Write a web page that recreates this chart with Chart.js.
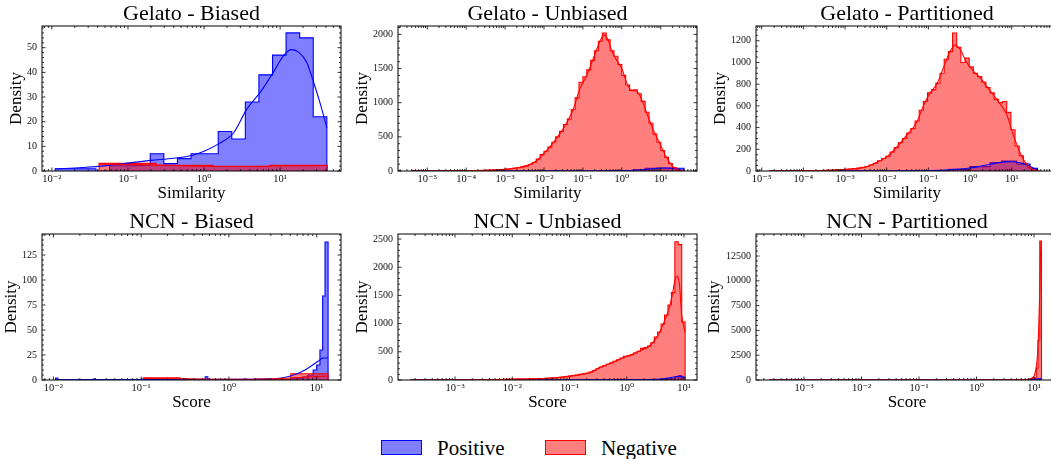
<!DOCTYPE html>
<html>
<head>
<meta charset="utf-8">
<script src="https://cdn.jsdelivr.net/npm/chart.js@4.4.1/dist/chart.umd.min.js"></script>
<style>
  body { margin: 0; width: 1051px; height: 459px; overflow: hidden; background: #fff; position: relative; }
  canvas { position: absolute; }
  .sw { position: absolute; top: 440px; width: 41px; height: 15px; box-sizing: border-box; }
  .lt { position: absolute; top: 435px; font: 21px "Liberation Serif", serif; color: #000; line-height: 26px; }
</style>
</head>
<body>
<div class="sw" style="left:381px;background:rgba(0,0,255,0.5);border:1px solid #0000ff"></div>
<div class="lt" style="left:437px">Positive</div>
<div class="sw" style="left:545px;background:rgba(255,0,0,0.5);border:1px solid #ff0000"></div>
<div class="lt" style="left:601px">Negative</div>
<script>
// all x values are log10 exponents

// Gelato - Biased
const gbPosEdges = [-1.956, -1.778, -1.599, -1.421, -1.242, -1.064, -0.885, -0.707, -0.528, -0.350, -0.171, 0.007, 0.186, 0.364, 0.543, 0.721, 0.900, 1.078, 1.257, 1.435, 1.614];
const gbPosHist = [0.9, 0.9, 0.9, 0, 2.1, 2.1, 2.3, 7, 3, 5, 7, 7, 16, 13, 28, 39, 47, 56, 54, 22];
const gbNegEdges = [-1.38, -0.63, 0.12, 0.87, 1.62];
const gbNegHist = [3.1, 2.3, 1.8, 2.3];
const gbPosKdeX = [-1.956, -1.6, -1.25, -1.0, -0.7, -0.4, -0.16, 0.0, 0.19, 0.39, 0.56, 0.74, 0.91, 1.05, 1.15, 1.25, 1.35, 1.44, 1.53, 1.614];
const gbPosKde = [0.8, 1.4, 2.3, 3.2, 4.3, 5.2, 6.3, 8, 11, 15.5, 25, 32, 40, 47, 49.2, 48, 44, 36, 27, 17.5];
const gbNegKdeX = [-1.38, -0.9, -0.4, 0.1, 0.6, 1.1, 1.62];
const gbNegKde = [2.8, 2.6, 2.2, 1.9, 1.9, 2.1, 2.2];

// Gelato - Unbiased
const guNegEdges = [-5.4,-5.3,-5.2,-5.1,-5.0,-4.9,-4.8,-4.7,-4.6,-4.5,-4.4,-4.3,-4.2,-4.1,-4.0,-3.9,-3.8,-3.7,-3.6,-3.5,-3.4,-3.3,-3.2,-3.1,-3.0,-2.9,-2.8,-2.7,-2.6,-2.5,-2.4,-2.3,-2.2,-2.1,-2.0,-1.9,-1.8,-1.7,-1.6,-1.5,-1.4,-1.3,-1.2,-1.1,-1.0,-0.9,-0.8,-0.7,-0.6,-0.5,-0.4,-0.3,-0.2,-0.1,0.0,0.1,0.2,0.3,0.4,0.5,0.6,0.7,0.8,0.9,1.0,1.1,1.2,1.3,1.4,1.5,1.6];
const guNegHist = [0,0,0,1,0,1,1,1,1,1, 2,1,2,3,3,4,5,6,8,10, 12,15,18,22,28,34,42,50,60,75, 95,125,175,240,290,350,420,500,580,680, 760,900,1070,1300,1380,1480,1620,1760,1900,2020, 1920,1760,1680,1560,1400,1260,1180,1190,1130,1020, 860,700,540,420,300,200,110,50,15,3];
const guNegKdeX = [-5.4,-4.5,-3.82,-3.13,-2.7,-2.45,-2.19,-2.02,-1.85,-1.59,-1.42,-1.25,-1.08,-0.9,-0.73,-0.56,-0.46,-0.36,-0.26,-0.13,0.0,0.12,0.25,0.38,0.51,0.64,0.81,0.98,1.15,1.32,1.5,1.6];
const guNegKde = [0,1,5,20,45,75,150,250,350,550,700,900,1200,1400,1650,1900,1990,1930,1760,1620,1500,1300,1180,1170,1050,850,600,400,200,60,8,1];
const guPosEdges = [-5.4, 0.0, 0.3, 0.6, 0.9, 1.2, 1.4, 1.6];
const guPosHist = [0, 6, 18, 40, 45, 45, 40];
const guPosKdeX = [-5.4, -1.0, 0.0, 0.3, 0.6, 0.9, 1.1, 1.3, 1.45, 1.6];
const guPosKde = [0, 0.5, 3, 10, 22, 38, 45, 40, 22, 5];

// Gelato - Partitioned
const gpNegEdges = [-4.82,-4.72,-4.62,-4.52,-4.42,-4.32,-4.22,-4.12,-4.02,-3.92,-3.82,-3.72,-3.62,-3.52,-3.42,-3.32,-3.22,-3.12,-3.02,-2.92,-2.82,-2.72,-2.62,-2.52,-2.42,-2.32,-2.22,-2.12,-2.02,-1.92,-1.82,-1.72,-1.62,-1.52,-1.42,-1.32,-1.22,-1.12,-1.02,-0.92,-0.82,-0.72,-0.62,-0.52,-0.42,-0.32,-0.22,-0.12,-0.02,0.08,0.18,0.28,0.38,0.48,0.58,0.68,0.78,0.88,0.98,1.08,1.18,1.28,1.38,1.48,1.58,1.68];
const gpNegHist = [0,0,1,1,1,1,2,2,2,3, 3,4,5,6,7,9,10,13,15,18, 22,28,34,42,55,72,95,115,135,175, 215,260,300,350,390,460,560,640,720,750, 810,900,1030,1100,1272,1140,1000,1040,960,900, 870,820,770,720,660,630,640,540,380,230, 140,70,30,10,2];
const gpNegKdeX = [-4.82,-4.0,-3.52,-2.96,-2.48,-2.24,-2.0,-1.76,-1.52,-1.28,-1.12,-0.96,-0.8,-0.64,-0.48,-0.36,-0.24,-0.08,0.08,0.24,0.4,0.56,0.72,0.88,1.04,1.2,1.36,1.52,1.62];
const gpNegKde = [0,2,5,15,40,80,130,220,330,450,600,720,800,950,1100,1160,1120,1000,920,860,780,700,620,520,330,170,60,10,1];
const gpPosEdges = [-4.82, -1.0, -0.5, 0.0, 0.48, 0.76, 1.12, 1.44, 1.62];
const gpPosHist = [0, 4, 15, 40, 77, 92, 65, 25];
const gpPosKdeX = [-4.82, -2.0, -1.0, -0.5, 0.0, 0.3, 0.6, 0.85, 1.0, 1.2, 1.4, 1.55, 1.62];
const gpPosKde = [0, 0.5, 3, 10, 28, 48, 70, 84, 85, 75, 50, 22, 12];

// NCN - Biased
const nbPosEdges = [-1.975, -1.95, -1.55, -1.52, -1.0, -0.97, -0.51, -0.48, -0.27, -0.24, 0.17, 0.20, 0.42, 0.45, 0.72, 0.75, 0.84, 0.90, 0.96, 1.00, 1.037, 1.068, 1.095, 1.13];
const nbPosHist = [2, 0, 1, 0, 1, 0, 1.5, 0, 3.3, 0, 1, 0, 1, 0, 1.5, 2, 3, 5, 10, 15, 30, 84, 138];
const nbNegEdges = [-0.975, -0.555, -0.135, 0.285, 0.705, 1.13];
const nbNegHist = [2.3, 0.5, 0.5, 0.8, 6.3];
const nbPosKdeX = [-1.975, -1.0, 0.0, 0.4, 0.6, 0.72, 0.83, 0.93, 1.02, 1.07, 1.13];
const nbPosKde = [0.3, 0.5, 0.6, 0.9, 2, 4.5, 8.3, 13.5, 19, 22, 22];
const nbNegKdeX = [-0.975, -0.6, -0.2, 0.3, 0.7, 1.0, 1.13];
const nbNegKde = [1.6, 1.3, 0.8, 0.8, 2, 3.5, 3.8];

// NCN - Unbiased
const nuNegEdges = [-3.78,-3.72,-3.66,-3.60,-3.54,-3.48,-3.42,-3.36,-3.30,-3.24,-3.18,-3.12,-3.06,-3.00,-2.94,-2.88,-2.82,-2.76,-2.70,-2.64,-2.58,-2.52,-2.46,-2.40,-2.34,-2.28,-2.22,-2.16,-2.10,-2.04,-1.98,-1.92,-1.86,-1.80,-1.74,-1.68,-1.62,-1.56,-1.50,-1.44,-1.38,-1.32,-1.26,-1.20,-1.14,-1.08,-1.02,-0.96,-0.90,-0.84,-0.78,-0.72,-0.66,-0.60,-0.54,-0.48,-0.42,-0.36,-0.30,-0.24,-0.18,-0.12,-0.06,0.00,0.06,0.12,0.18,0.24,0.30,0.36,0.42,0.48,0.54,0.60,0.66,0.72,0.78,0.84,0.90,0.96,1.02];
const nuNegHist = [0,0,0,1,0,1,0,1,1,1, 1,1,1,2,2,2,3,3,3,4, 4,5,5,6,8,9,10,12,13,14, 15,16,17,18,19,21,22,24,27,30, 33,37,41,46,52,60,68,78,88,100, 112,125,140,165,200,230,255,280,300,330, 360,390,420,430,450,480,510,560,575,600, 660,760,850,990,1150,1330,1550,2452,2400,1030];
const nuNegKdeX = [-3.78,-3.0,-2.5,-2.1,-1.52,-1.23,-0.94,-0.65,-0.47,-0.29,-0.12,0.06,0.23,0.38,0.47,0.58,0.64,0.73,0.79,0.84,0.87,0.92,0.96,1.02];
const nuNegKde = [0,1,4,12,24,41,77,130,220,295,370,440,520,590,680,860,1000,1240,1480,1760,1840,1700,1150,850];
const nuPosEdges = [-3.78, 0.42, 0.6, 0.72, 0.84, 0.9, 0.96, 1.02];
const nuPosHist = [0, 3, 8, 20, 55, 78, 45];
const nuPosKdeX = [-3.78, -1.0, 0.0, 0.4, 0.6, 0.75, 0.88, 0.95, 1.02];
const nuPosKde = [0, 0.5, 3, 8, 18, 38, 62, 60, 45];

// NCN - Partitioned
const npNegEdges = [-3.60, 0.50, 0.90, 0.98, 1.04, 1.07, 1.10, 1.13];
const npNegHist = [3, 15, 60, 250, 1200, 4000, 14000];
const npNegKdeX = [-3.6, 0.0, 0.8, 0.95, 1.0, 1.03, 1.06, 1.08, 1.10, 1.12, 1.13];
const npNegKde = [0, 2, 20, 150, 400, 1000, 2500, 5000, 9000, 13900, 13500];
const npPosEdges = [-3.60, 0.8, 1.0, 1.1, 1.13];
const npPosHist = [0, 10, 60, 150];
const npPosKdeX = [-3.6, 0.5, 1.0, 1.13];
const npPosKde = [0, 5, 60, 140];

// tick labels
const gbYTicks = [0, 10, 20, 30, 40, 50];
const guYTicks = [0, 500, 1000, 1500, 2000];
const gpYTicks = [0, 200, 400, 600, 800, 1000, 1200];
const nbYTicks = [0, 25, 50, 75, 100, 125];
const nuYTicks = [0, 500, 1000, 1500, 2000, 2500];
const npYTicks = [0, 2500, 5000, 7500, 10000, 12500];
const gbXTicks = [-2, -1, 0, 1];
const guXTicks = [-5, -4, -3, -2, -1, 0, 1];
const gpXTicks = [-5, -4, -3, -2, -1, 0, 1];
const nbXTicks = [-2, -1, 0, 1];
const nuXTicks = [-3, -2, -1, 0, 1];
const npXTicks = [-3, -2, -1, 0, 1];

const FONT = '"Liberation Serif", "DejaVu Serif", serif';
const BLUE = '#0000ff', RED = '#ff0000';
const BLUE_FILL = 'rgba(0,0,255,0.5)', RED_FILL = 'rgba(255,0,0,0.5)';
const SUP = {'-': '\u207B', '0': '\u2070', '1': '\u00B9', '2': '\u00B2', '3': '\u00B3', '4': '\u2074', '5': '\u2075', '6': '\u2076', '7': '\u2077', '8': '\u2078', '9': '\u2079'};
const PAD_R = 14; // spare room on the right so scale padding never shrinks the plot box

function powLabel(e) {
  return '10' + String(e).split('').map(c => SUP[c]).join('');
}

function histPoints(edges, heights) {
  const pts = [{x: 10 ** edges[0], y: 0}];
  heights.forEach((h, i) => pts.push({x: 10 ** edges[i], y: h}));
  pts.push({x: 10 ** edges[edges.length - 1], y: heights[heights.length - 1]});
  pts.push({x: 10 ** edges[edges.length - 1], y: 0});
  return pts;
}

function curvePoints(xs, ys) {
  return xs.map((e, i) => ({x: 10 ** e, y: ys[i]}));
}

// frame + inward ticks on all four sides, like the scienceplots style
const framePlugin = {
  id: 'frame',
  afterDraw(chart, args, opts) {
    const {ctx, chartArea: a, scales: {x, y}} = chart;
    ctx.save();
    ctx.strokeStyle = '#000';
    ctx.lineWidth = 1;
    ctx.strokeRect(a.left, a.top, a.right - a.left, a.bottom - a.top);
    ctx.lineWidth = 0.8;
    ctx.beginPath();
    const lo = Math.log10(x.min), hi = Math.log10(x.max);
    for (let e = Math.floor(lo); e <= Math.ceil(hi); e++) {
      for (let m = 1; m < 10; m++) {
        const lv = Math.log10(m) + e;
        if (lv < lo || lv > hi) continue;
        const px = x.getPixelForValue(10 ** lv);
        const len = m === 1 ? 3.5 : 2;
        ctx.moveTo(px, a.bottom); ctx.lineTo(px, a.bottom - len);
        ctx.moveTo(px, a.top); ctx.lineTo(px, a.top + len);
      }
    }
    const minor = opts.step / opts.div;
    for (let k = 0; k * minor <= y.max; k++) {
      const py = y.getPixelForValue(k * minor);
      const len = k % opts.div === 0 ? 3.5 : 2;
      ctx.moveTo(a.left, py); ctx.lineTo(a.left + len, py);
      ctx.moveTo(a.right, py); ctx.lineTo(a.right - len, py);
    }
    ctx.stroke();
    ctx.restore();
  }
};

const panels = [
  {title: 'Gelato - Biased', xlab: 'Similarity', l: 42, t: 26, r: 341, b: 171, ylx: 17,
   xr: [-2.13, 1.80], ymax: 58.8, step: 10, div: 5, yt: gbYTicks, xt: gbXTicks,
   pos: [gbPosEdges, gbPosHist, gbPosKdeX, gbPosKde], neg: [gbNegEdges, gbNegHist, gbNegKdeX, gbNegKde]},
  {title: 'Gelato - Unbiased', xlab: 'Similarity', l: 398, t: 26, r: 697, b: 171, ylx: 363,
   xr: [-5.753, 1.933], ymax: 2123, step: 500, div: 5, yt: guYTicks, xt: guXTicks,
   pos: [guPosEdges, guPosHist, guPosKdeX, guPosKde], neg: [guNegEdges, guNegHist, guNegKdeX, guNegKde]},
  {title: 'Gelato - Partitioned', xlab: 'Similarity', l: 756, t: 26, r: 1058, b: 171, ylx: 721,
   xr: [-5.137, 2.111], ymax: 1336, step: 200, div: 4, yt: gpYTicks, xt: gpXTicks,
   pos: [gpPosEdges, gpPosHist, gpPosKdeX, gpPosKde], neg: [gpNegEdges, gpNegHist, gpNegKdeX, gpNegKde]},
  {title: 'NCN - Biased', xlab: 'Score', l: 42, t: 234, r: 341, b: 380, ylx: 12,
   xr: [-2.13, 1.277], ymax: 146, step: 25, div: 5, yt: nbYTicks, xt: nbXTicks,
   pos: [nbPosEdges, nbPosHist, nbPosKdeX, nbPosKde], neg: [nbNegEdges, nbNegHist, nbNegKdeX, nbNegKde]},
  {title: 'NCN - Unbiased', xlab: 'Score', l: 398, t: 234, r: 697, b: 380, ylx: 363,
   xr: [-3.996, 1.227], ymax: 2589, step: 500, div: 5, yt: nuYTicks, xt: nuXTicks,
   pos: [nuPosEdges, nuPosHist, nuPosKdeX, nuPosKde], neg: [nuNegEdges, nuNegHist, nuNegKdeX, nuNegKde]},
  {title: 'NCN - Partitioned', xlab: 'Score', l: 756, t: 234, r: 1058, b: 380, ylx: 715,
   xr: [-3.835, 1.417], ymax: 14718, step: 2500, div: 5, yt: npYTicks, xt: npXTicks,
   pos: [npPosEdges, npPosHist, npPosKdeX, npPosKde], neg: [npNegEdges, npNegHist, npNegKdeX, npNegKde]},
];

Chart.defaults.font.family = FONT;
Chart.defaults.color = '#000';

panels.forEach(p => {
  const left = p.ylx - 11;
  const top = p.t - 26;
  const cv = document.createElement('canvas');
  cv.width = p.r - left + PAD_R;
  cv.height = p.b - p.t + 58;
  cv.style.left = left + 'px';
  cv.style.top = top + 'px';
  document.body.appendChild(cv);

  const kde = (d, color) => ({
    data: curvePoints(d[2], d[3]), borderColor: color, borderWidth: 1.1,
    fill: false, pointRadius: 0, cubicInterpolationMode: 'monotone'
  });
  const hist = (d, color, fillColor) => ({
    data: histPoints(d[0], d[1]), borderColor: color, backgroundColor: fillColor,
    borderWidth: 1.1, fill: 'origin', pointRadius: 0, stepped: 'before'
  });

  new Chart(cv, {
    type: 'line',
    data: {
      datasets: [
        kde(p.neg, RED),
        kde(p.pos, BLUE),
        hist(p.neg, RED, RED_FILL),
        hist(p.pos, BLUE, BLUE_FILL),
      ]
    },
    options: {
      responsive: false,
      animation: false,
      events: [],
      layout: {padding: {left: 0, top: 0, right: PAD_R, bottom: 0}},
      plugins: {
        legend: {display: false},
        tooltip: {enabled: false},
        title: {display: true, text: p.title, fullSize: false, color: '#000',
                font: {size: 22, weight: 'normal', lineHeight: 1}, padding: {top: 3, bottom: 1}},
        frame: {step: p.step, div: p.div}
      },
      scales: {
        x: {
          type: 'logarithmic',
          min: 10 ** p.xr[0], max: 10 ** p.xr[1],
          grid: {display: false, drawTicks: false},
          border: {display: false},
          afterBuildTicks: s => { s.ticks = p.xt.map(e => ({value: 10 ** e})); },
          afterFit: s => { s.height = 32; },
          ticks: {autoSkip: false, maxRotation: 0, minRotation: 0, padding: 2,
                  font: {size: 10.5}, color: '#111',
                  callback: v => powLabel(Math.round(Math.log10(v)))},
          title: {display: true, text: p.xlab, font: {size: 17, lineHeight: 1},
                  padding: {top: 0, bottom: 1}}
        },
        y: {
          min: 0, max: p.ymax,
          grid: {display: false, drawTicks: false},
          border: {display: false},
          afterBuildTicks: s => { s.ticks = p.yt.map(v => ({value: v})); },
          afterFit: s => { s.width = p.l - left; },
          ticks: {padding: 5, font: {size: 10}, color: '#111', callback: v => String(v)},
          title: {display: true, text: 'Density', font: {size: 17, lineHeight: 1},
                  padding: {top: 2.5, bottom: 0}}
        }
      }
    },
    plugins: [framePlugin]
  });
});
</script>
</body>
</html>
